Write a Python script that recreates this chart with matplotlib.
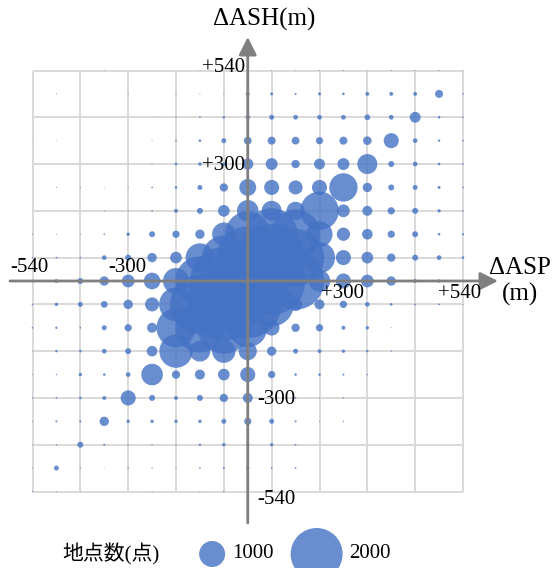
import matplotlib.pyplot as plt
import numpy as np
from matplotlib.offsetbox import AnchoredOffsetbox, DrawingArea, HPacker, TextArea
from matplotlib.patches import Circle

plt.rcParams['font.family'] = ['Liberation Serif', 'Noto Sans CJK JP']

# grid of offsets (m)
x_steps = list(range(-540, 541, 60))
y_steps = list(range(540, -541, -60))

# number of points per cell, rows from +540 down to -540, columns -540 .. +540
counts = [
    [0, 0, 0, 30, 0, 20, 30, 30, 30, 40, 40, 30, 40, 40, 30, 40, 40, 40, 40],
    [0, 40, 0, 0, 40, 0, 40, 40, 40, 150, 115, 77, 115, 100, 150, 150, 150, 310, 60],
    [0, 0, 0, 0, 0, 30, 50, 65, 100, 170, 190, 180, 180, 180, 220, 180, 420, 100, 60],
    [20, 30, 0, 0, 0, 40, 64, 100, 190, 300, 310, 300, 280, 310, 330, 580, 180, 90, 60],
    [0, 0, 0, 0, 30, 40, 100, 130, 130, 430, 460, 320, 420, 460, 770, 230, 180, 100, 60],
    [0, 40, 40, 30, 40, 64, 100, 190, 320, 650, 580, 540, 580, 1090, 360, 230, 190, 115, 60],
    [0, 0, 0, 40, 40, 64, 150, 230, 450, 830, 770, 700, 1480, 490, 385, 280, 230, 130, 60],
    [38, 38, 38, 64, 130, 230, 280, 360, 900, 1750, 2000, 1900, 1000, 510, 410, 280, 230, 100, 77],
    [51, 64, 64, 180, 230, 360, 450, 1100, 1700, 2400, 2600, 2200, 1200, 580, 450, 320, 230, 180, 100],
    [100, 150, 230, 360, 490, 640, 1000, 1900, 2600, 3000, 2600, 2200, 830, 580, 490, 360, 150, 130, 64],
    [64, 130, 190, 260, 360, 540, 1300, 2300, 2800, 2600, 1700, 510, 385, 280, 180, 100, 64, 64, 38],
    [64, 90, 64, 190, 280, 385, 1500, 1900, 2000, 1500, 600, 320, 280, 150, 130, 38, 0, 0, 0],
    [38, 90, 100, 180, 230, 410, 1280, 800, 900, 700, 360, 190, 150, 130, 90, 50, 0, 0, 0],
    [38, 51, 130, 100, 180, 830, 320, 385, 450, 580, 280, 100, 100, 77, 51, 0, 0, 0, 0],
    [51, 64, 100, 150, 580, 230, 150, 230, 320, 385, 40, 64, 40, 51, 0, 0, 0, 0, 0],
    [38, 77, 77, 360, 130, 130, 130, 130, 190, 280, 190, 77, 38, 51, 0, 0, 0, 0, 0],
    [38, 51, 230, 77, 51, 51, 51, 90, 130, 130, 130, 64, 0, 0, 0, 0, 0, 0, 0],
    [38, 190, 51, 26, 51, 51, 38, 64, 77, 130, 64, 64, 0, 0, 0, 0, 0, 0, 0],
    [51, 38, 26, 0, 0, 38, 0, 38, 51, 50, 0, 0, 0, 0, 0, 0, 0, 0, 0],
]

legend_sizes = [1000, 2000]
grid_lines = [-540, -420, -300, -180, -60, 60, 180, 300, 420, 540]

W, H = 553, 568
DPI = 100
# pixel calibration of the plot area
X0, XS = 247.75, 430.5 / 1080
Y0, YS = 281.0, 421.0 / 1080
DIAM_PX = 26 / 1000   # bubble diameter in px per point counted

BLUE = '#4472C4'
AXIS_GRAY = '#7f7f7f'


def px_x(p):
    return (p - X0) / XS


def px_y(p):
    return (Y0 - p) / YS


fig = plt.figure(figsize=(W / DPI, H / DPI), dpi=DPI)
ax = fig.add_axes([0, 0, 1, 1])
ax.set_xlim(px_x(0), px_x(W))
ax.set_ylim(px_y(H), px_y(0))
ax.axis('off')

ax.vlines(grid_lines, -540, 540, color='#d9d9d9', lw=1.4, zorder=1)
ax.hlines(grid_lines, -540, 540, color='#d9d9d9', lw=1.4, zorder=1)

gx, gy = np.meshgrid(x_steps, y_steps)
vals = np.array(counts, dtype=float)
diam_pt = vals * DIAM_PX * 72 / DPI
ax.scatter(gx.ravel(), gy.ravel(), s=diam_pt.ravel() ** 2, color=BLUE,
           alpha=0.8, linewidths=0, zorder=2, clip_on=False)

# axes with arrows
arrow = dict(arrowstyle='-|>', color=AXIS_GRAY, lw=2, mutation_scale=27,
             shrinkA=0, shrinkB=0)
ax.annotate('', xy=(px_x(498), 0), xytext=(px_x(10), 0), arrowprops=arrow, zorder=3)
ax.annotate('', xy=(0, px_y(37)), xytext=(0, px_y(523)), arrowprops=arrow, zorder=3)


def label(x, y, s, size=15, ha='center'):
    fig.text(x / W, 1 - y / H, s, fontsize=size, ha=ha, va='center', color='black')


label(264, 19, 'ΔASH(m)', size=18)
label(520, 268, 'ΔASP', size=18)
label(520, 294, '(m)', size=18)

label(245, 67, '+540', ha='right')
label(245, 165, '+300', ha='right')
label(257, 400, '-300', ha='left')
label(257, 499, '-540', ha='left')

label(29, 268, '-540')
label(127, 268, '-300')
label(342, 293, '+300')
label(460, 293, '+540')

# size legend
pt = 72 / DPI
items = []
for v in legend_sizes:
    r = v * DIAM_PX / 2 * pt
    da = DrawingArea(2 * r, 2 * r, 0, 0)
    da.add_artist(Circle((r, r), r, color=BLUE, alpha=0.8, lw=0))
    items.append(HPacker(children=[da, TextArea(str(v), textprops=dict(fontsize=15))],
                         sep=7 * pt, align='center'))
title = TextArea('地点数(点)', textprops=dict(fontsize=15))
keys = HPacker(children=items, sep=17 * pt, align='center')
box = HPacker(children=[title, keys], sep=40 * pt, align='center')
leg = AnchoredOffsetbox(loc='center', child=box, frameon=False, pad=0, borderpad=0,
                        bbox_to_anchor=(226.5 / W, 1 - 554 / H),
                        bbox_transform=fig.transFigure)
ax.add_artist(leg)

fig.savefig('out.png', dpi=DPI)
